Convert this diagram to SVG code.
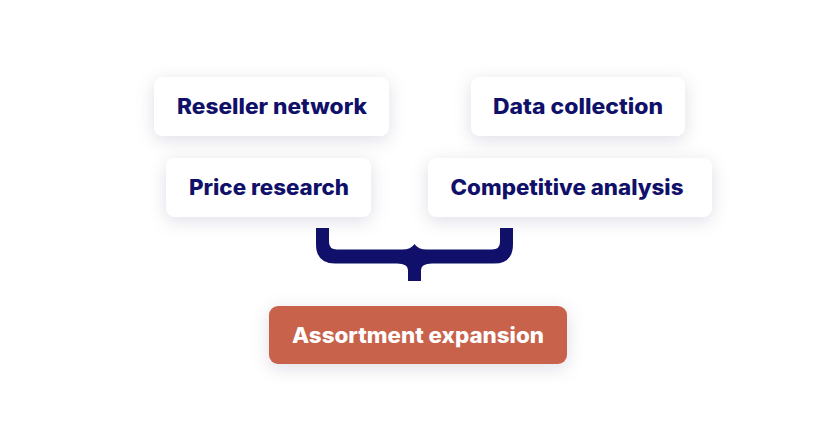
<svg xmlns="http://www.w3.org/2000/svg" width="814" height="448" viewBox="0 0 814 448">
<defs>
<filter id="sh" x="-30%" y="-50%" width="160%" height="200%">
<feDropShadow dx="0" dy="4" stdDeviation="9" flood-color="#1a1f3c" flood-opacity="0.13"/>
</filter>
<style>
.box{fill:#ffffff;filter:url(#sh);}
.hl{fill:#c8624b;filter:url(#sh);}
.t{font-family:Inter,"Open Sans","Liberation Sans",sans-serif;font-weight:800;font-size:21px;fill:#10106a;text-anchor:middle;}
.tw{fill:#ffffff;}
.brace{fill:#10106a;}
</style>
</defs>
<rect width="814" height="448" fill="#ffffff"/>
<g id="connectors">
<path class="brace" d="M316,228 H329 V242 Q329,249.5 337,249.5 H402 Q411,249.5 414.5,244 Q418,249.5 427,249.5 H492 Q500,249.5 500,242 V228 H513 V244 Q513,263.5 494,263.5 H432 Q421,263.5 421,270 V281 H408 V270 Q408,263.5 397,263.5 H335 Q316,263.5 316,244 Z"/>
</g>
<g id="node-reseller">
<rect class="box" x="154" y="77" width="235" height="59" rx="9"/>
<text class="t" x="272" y="114" textLength="190" lengthAdjust="spacingAndGlyphs">Reseller network</text>
</g>
<g id="node-data">
<rect class="box" x="471" y="77" width="214" height="59" rx="9"/>
<text class="t" x="578" y="114" textLength="170" lengthAdjust="spacingAndGlyphs">Data collection</text>
</g>
<g id="node-price">
<rect class="box" x="166" y="158" width="205" height="59" rx="9"/>
<text class="t" x="269" y="195" textLength="160" lengthAdjust="spacingAndGlyphs">Price research</text>
</g>
<g id="node-competitive">
<rect class="box" x="428" y="158" width="284" height="59" rx="9"/>
<text class="t" x="567" y="195" textLength="233" lengthAdjust="spacingAndGlyphs">Competitive analysis</text>
</g>
<g id="node-assortment">
<rect class="hl" x="269" y="306" width="298" height="58" rx="9"/>
<text class="t tw" x="418" y="343" textLength="252" lengthAdjust="spacingAndGlyphs">Assortment expansion</text>
</g>
</svg>
